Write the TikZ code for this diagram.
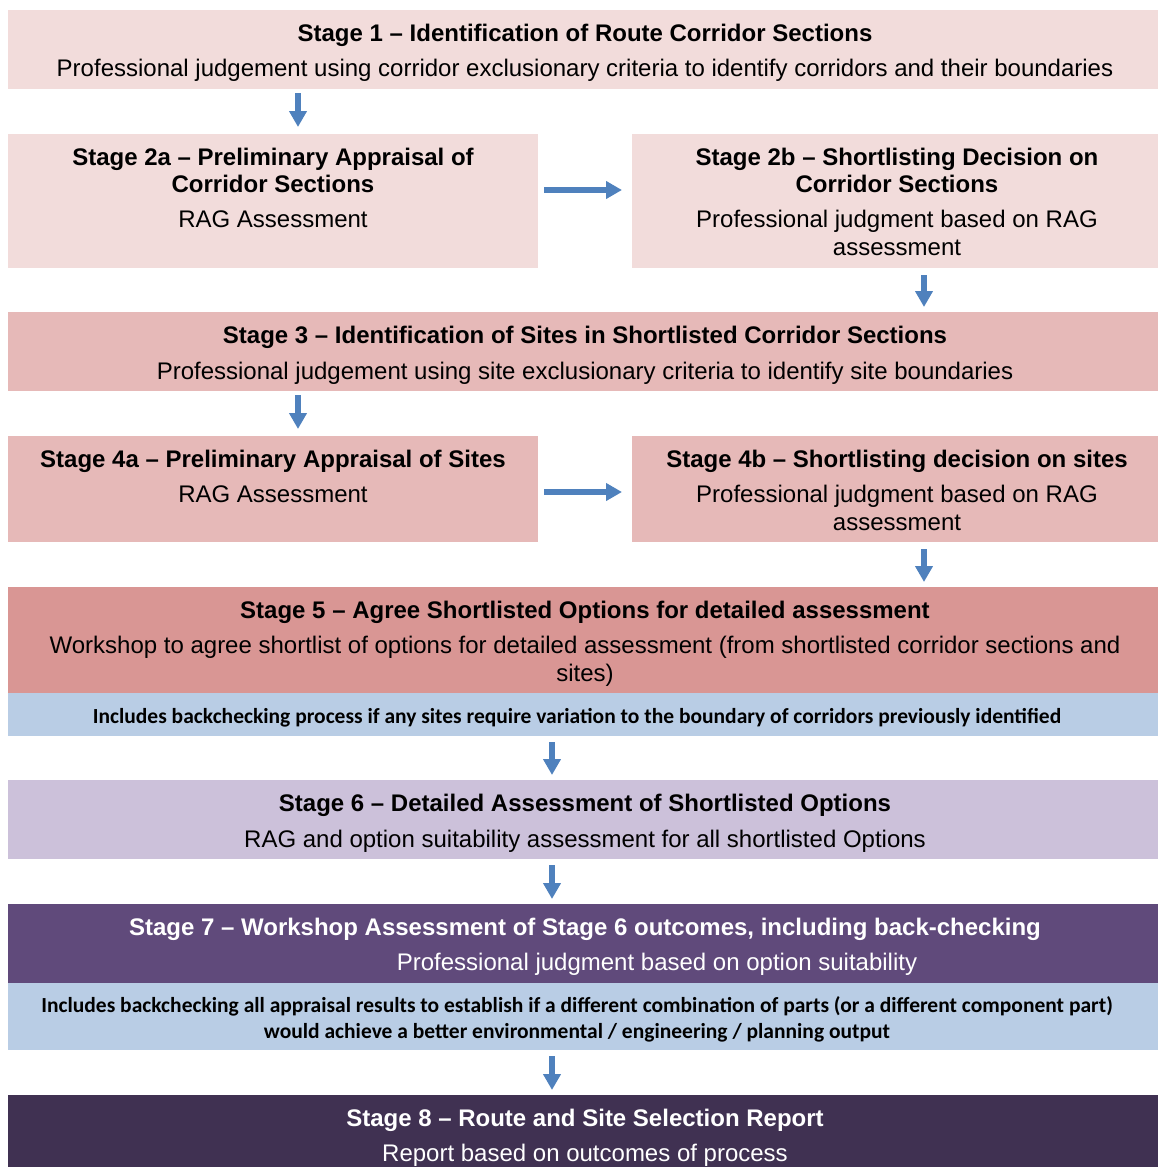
\documentclass[tikz,border=0pt]{standalone}
\usepackage{fontspec}
\setmainfont{Liberation Sans}
\newfontfamily\calib{Carlito}
\usetikzlibrary{arrows.meta,calc}
\definecolor{cA}{HTML}{F2DCDB}
\definecolor{cB}{HTML}{E6B9B8}
\definecolor{cC}{HTML}{D99694}
\definecolor{cband}{HTML}{B9CDE5}
\definecolor{cD}{HTML}{CCC1DA}
\definecolor{cE}{HTML}{604A7B}
\definecolor{cF}{HTML}{403152}
\definecolor{carr}{HTML}{4F81BD}
\tikzset{
  box/.style={rectangle, inner sep=0pt, outer sep=0pt, anchor=north west, draw=none},
  ttl/.style={inner sep=0pt, anchor=base, font=\bfseries\fontsize{24}{29}\selectfont},
  txt/.style={inner sep=0pt, anchor=base, font=\fontsize{24}{29}\selectfont},
  btxt/.style={inner sep=0pt, anchor=base, font=\calib\bfseries\fontsize{21.5}{26}\selectfont},
  arr/.style={draw=carr, line width=6pt, -{Triangle[width=17pt,length=16pt]}},
}
\begin{document}
\begin{tikzpicture}[x=1pt,y=-1pt]
\useasboundingbox (0,0) rectangle (1158,1167);
% boxes
\node[box, fill=cA, minimum width=1150pt, minimum height=79pt] (s1) at (8,10) {};
\node[box, fill=cA, minimum width=530pt, minimum height=134pt] (s2a) at (8,134) {};
\node[box, fill=cA, minimum width=526pt, minimum height=134pt] (s2b) at (632,134) {};
\node[box, fill=cB, minimum width=1150pt, minimum height=79pt] (s3) at (8,312) {};
\node[box, fill=cB, minimum width=530pt, minimum height=106pt] (s4a) at (8,436) {};
\node[box, fill=cB, minimum width=526pt, minimum height=106pt] (s4b) at (632,436) {};
\node[box, fill=cC, minimum width=1150pt, minimum height=107pt] (s5) at (8,587) {};
\node[box, fill=cband, minimum width=1150pt, minimum height=43pt] (b5) at (8,693) {};
\node[box, fill=cD, minimum width=1150pt, minimum height=79pt] (s6) at (8,780) {};
\node[box, fill=cE, minimum width=1150pt, minimum height=80pt] (s7) at (8,904) {};
\node[box, fill=cband, minimum width=1150pt, minimum height=67pt] (b7) at (8,983) {};
\node[box, fill=cF, minimum width=1150pt, minimum height=72pt] (s8) at (8,1095) {};
% texts
\node[ttl] (t1a) at (585,41) {Stage 1 – Identification of Route Corridor Sections};
\node[txt] (t1b) at (585,76) {Professional judgement using corridor exclusionary criteria to identify corridors and their boundaries};
\node[ttl] (t2a1) at (273,165) {Stage 2a – Preliminary Appraisal of};
\node[ttl] (t2a2) at (273,192) {Corridor Sections};
\node[txt] (t2a3) at (273,227) {RAG Assessment};
\node[ttl] (t2b1) at (897,165) {Stage 2b – Shortlisting Decision on};
\node[ttl] (t2b2) at (897,192) {Corridor Sections};
\node[txt] (t2b3) at (897,227) {Professional judgment based on RAG};
\node[txt] (t2b4) at (897,255) {assessment};
\node[ttl] (t3a) at (585,343) {Stage 3 – Identification of Sites in Shortlisted Corridor Sections};
\node[txt] (t3b) at (585,379) {Professional judgement using site exclusionary criteria to identify site boundaries};
\node[ttl] (t4a1) at (273,467) {Stage 4a – Preliminary Appraisal of Sites};
\node[txt] (t4a2) at (273,502) {RAG Assessment};
\node[ttl] (t4b1) at (897,467) {Stage 4b – Shortlisting decision on sites};
\node[txt] (t4b2) at (897,502) {Professional judgment based on RAG};
\node[txt] (t4b3) at (897,530) {assessment};
\node[ttl] (t5a) at (585,618) {Stage 5 – Agree Shortlisted Options for detailed assessment};
\node[txt] (t5b) at (585,653) {Workshop to agree shortlist of options for detailed assessment (from shortlisted corridor sections and};
\node[txt] (t5c) at (585,681) {sites)};
\node[btxt] (tb5) at (577,723) {Includes backchecking process if any sites require variation to the boundary of corridors previously identified};
\node[ttl] (t6a) at (585,811) {Stage 6 – Detailed Assessment of Shortlisted Options};
\node[txt] (t6b) at (585,847) {RAG and option suitability assessment for all shortlisted Options};
\node[ttl, text=white] (t7a) at (585,935) {Stage 7 – Workshop Assessment of Stage 6 outcomes, including back-checking};
\node[txt, text=white] (t7b) at (657,970) {Professional judgment based on option suitability};
\node[btxt] (tb7a) at (577,1012) {Includes backchecking all appraisal results to establish if a different combination of parts (or a different component part)};
\node[btxt] (tb7b) at (577,1038) {would achieve a better environmental / engineering / planning output};
\node[ttl, text=white] (t8a) at (585,1126) {Stage 8 – Route and Site Selection Report};
\node[txt, text=white] (t8b) at (585,1161) {Report based on outcomes of process};
% arrows
\draw[arr] ([yshift=-4pt]s1.south -| 298,0) -- ([yshift=7pt]s2a.north -| 298,0);
\draw[arr] ([xshift=6pt]s2a.east |- 0,190) -- ([xshift=-10pt]s2b.west |- 0,190);
\draw[arr] ([yshift=-7pt]s2b.south -| 924,0) -- ([yshift=5pt]s3.north -| 924,0);
\draw[arr] ([yshift=-4pt]s3.south -| 298,0) -- ([yshift=7pt]s4a.north -| 298,0);
\draw[arr] ([xshift=6pt]s4a.east |- 0,492) -- ([xshift=-10pt]s4b.west |- 0,492);
\draw[arr] ([yshift=-7pt]s4b.south -| 924,0) -- ([yshift=5pt]s5.north -| 924,0);
\draw[arr] ([yshift=-6pt]b5.south -| 552,0) -- ([yshift=5pt]s6.north -| 552,0);
\draw[arr] ([yshift=-6pt]s6.south -| 552,0) -- ([yshift=5pt]s7.north -| 552,0);
\draw[arr] ([yshift=-6pt]b7.south -| 552,0) -- ([yshift=5pt]s8.north -| 552,0);
\end{tikzpicture}
\end{document}
